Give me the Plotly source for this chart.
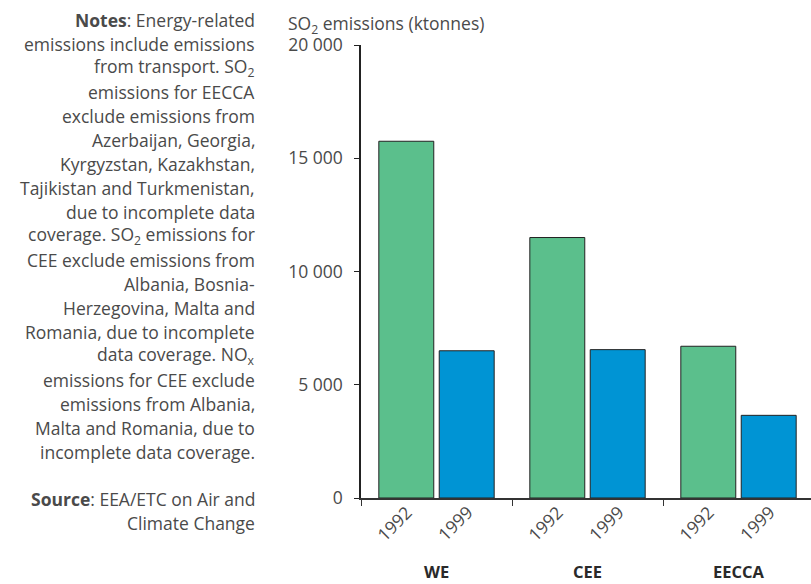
import plotly.graph_objects as go

regions = ["WE", "CEE", "EECCA"]
years = ["1992", "1999"]
so2_1992 = [15750, 11500, 6700]
so2_1999 = [6500, 6550, 3650]
y_ticks = [0, 5000, 10000, 15000, 20000]

notes_lines = [
    "<b>Notes</b>: Energy-related",
    "emissions include emissions",
    "from transport. SO<sub>2</sub>",
    "emissions for EECCA",
    "exclude emissions from",
    "Azerbaijan, Georgia,",
    "Kyrgyzstan, Kazakhstan,",
    "Tajikistan and Turkmenistan,",
    "due to incomplete data",
    "coverage. SO<sub>2</sub> emissions for",
    "CEE exclude emissions from",
    "Albania, Bosnia-",
    "Herzegovina, Malta and",
    "Romania, due to incomplete",
    "data coverage. NO<sub>x</sub>",
    "emissions for CEE exclude",
    "emissions from Albania,",
    "Malta and Romania, due to",
    "incomplete data coverage.",
    "",
    "<b>Source</b>: EEA/ETC on Air and",
    "Climate Change",
]

W, H = 811, 584
L, R, T, B = 361, 0, 45, 85.5
plot_h = H - T - B
plot_w = W - L - R
BARGAP = 0.2
BARGROUPGAP = 0.09
FONT = "Open Sans"
FS = 17.5
TXT = "#4a4a4a"

def px_to_paper_y(py):
    return (H - B - py) / plot_h

def px_to_paper_x(px):
    return (px - L) / plot_w

fig = go.Figure()
fig.add_trace(go.Bar(x=regions, y=so2_1992, name="1992",
                     marker=dict(color="#5bbf8c", line=dict(color="#222", width=1))))
fig.add_trace(go.Bar(x=regions, y=so2_1999, name="1999",
                     marker=dict(color="#0094d4", line=dict(color="#222", width=1))))

annotations = []
# notes text
for k, line in enumerate(notes_lines):
    if not line:
        continue
    annotations.append(dict(
        text=line, xref="paper", yref="paper",
        x=px_to_paper_x(257), y=px_to_paper_y(20 + 24 * k),
        xanchor="right", yanchor="middle", showarrow=False, align="right",
        font=dict(family=FONT, size=FS, color=TXT)))

# y title
annotations.append(dict(
    text="SO<sub>2</sub> emissions (ktonnes)", xref="paper", yref="paper",
    x=px_to_paper_x(286), y=px_to_paper_y(24), xanchor="left", yanchor="middle",
    showarrow=False, font=dict(family=FONT, size=FS, color=TXT)))

# year labels & group labels
off = (1 - BARGAP) / 4
for i, reg in enumerate(regions):
    for j, yr in enumerate(years):
        annotations.append(dict(
            text=yr, x=i + (-off if j == 0 else off), y=0, xref="x", yref="y",
            textangle=-45, xanchor="center", yanchor="middle", xshift=-12, yshift=-25,
            showarrow=False, font=dict(family=FONT, size=FS, color=TXT)))
    annotations.append(dict(
        text=f"<b>{reg}</b>", x=i, y=px_to_paper_y(572), xref="x", yref="paper",
        xanchor="center", yanchor="middle", showarrow=False,
        font=dict(family=FONT, size=16.5, color="#2a2a2a")))

fig.update_layout(
    width=W, height=H,
    margin=dict(l=L, r=R, t=T, b=B, pad=0),
    paper_bgcolor="white", plot_bgcolor="white",
    barmode="group", bargap=BARGAP, bargroupgap=BARGROUPGAP,
    showlegend=False,
    separators=". ",
    font=dict(family=FONT, size=FS, color=TXT),
    annotations=annotations,
)
fig.update_xaxes(
    type="category", range=[-0.5, -0.5 + plot_w / 151],
    showline=True, linecolor="#333", linewidth=1.5,
    ticks="outside", tickson="boundaries", ticklen=6, tickcolor="#333",
    showticklabels=False, showgrid=False, zeroline=False,
)
fig.update_yaxes(
    range=[0, 20000], tickvals=y_ticks, tickformat=",d",
    showline=True, linecolor="#222", linewidth=1.5,
    ticks="outside", ticklen=5, tickcolor="#222",
    ticklabelstandoff=8,
    tickfont=dict(family=FONT, size=FS, color=TXT),
    showgrid=False, zeroline=False,
)

fig.write_html("out.html", config={"displayModeBar": False},
               post_script="document.body.style.margin='0';document.body.style.overflow='hidden';")
